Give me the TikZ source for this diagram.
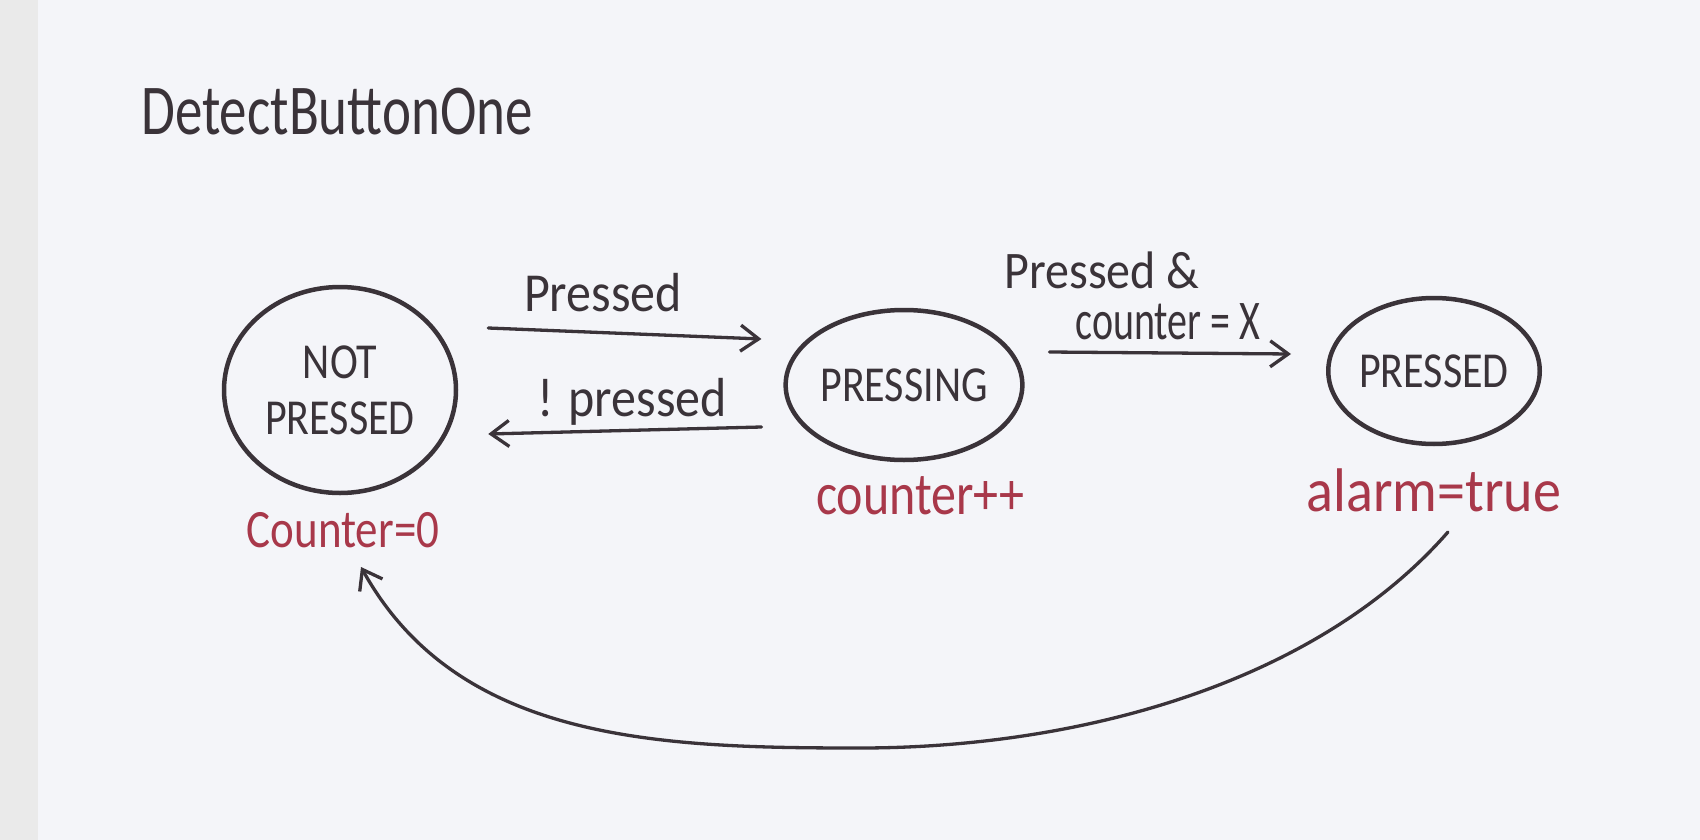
\documentclass[tikz,border=0pt]{standalone}
\usepackage{fontspec}
\setmainfont{Carlito}
\usepackage{graphicx}
\usetikzlibrary{shapes.geometric,arrows.meta,calc}
\definecolor{ink}{HTML}{3A3339}
\definecolor{redink}{HTML}{A8384A}
\definecolor{paper}{HTML}{F4F5F9}
\definecolor{strip}{HTML}{EAEAEA}
\newcommand{\tallx}[2][1.2]{\scalebox{1}[#1]{#2}}
\begin{document}
\begin{tikzpicture}[x=1pt,y=-1pt,
  state/.style={ellipse, draw=ink, line width=4.5pt, inner sep=0pt, text=ink, align=center, font=\fontsize{42}{56}\selectfont},
  arr/.style={draw=ink, line width=3.3pt, line cap=round, -{Straight Barb[length=18pt,width=26pt,line width=3.3pt]}},
  lbl/.style={text=ink, inner sep=0pt},
  act/.style={text=redink, inner sep=0pt}]
\useasboundingbox (0,0) rectangle (1700,840);
\fill[paper] (0,0) rectangle (1700,840);
\fill[strip] (0,0) rectangle (38,840);

\node[lbl, font=\fontsize{55}{60}\selectfont] (title) at (337,112) {\tallx[1.3]{DetectButtonOne}};

\node[state, minimum width=232pt, minimum height=206pt] (np) at (340,390) {\tallx{NOT}\\\tallx{PRESSED}};
\node[state, minimum width=224pt, minimum height=150pt] (pg) at (904,385) {\tallx{PRESSING}};
\node[state, minimum width=200pt, minimum height=146pt] (pd) at (1434,371) {\tallx{PRESSED}};

\node[act, font=\fontsize{45}{50}\selectfont] (c0) at (343,530) {\tallx{Counter=0}};
\node[act, font=\fontsize{50}{55}\selectfont] (cpp) at (920,496) {\tallx{counter++}};
\node[act, font=\fontsize{56}{60}\selectfont] (alarm) at (1434,490) {\tallx[1.1]{alarm=true}};

\draw[arr] ($(np.east)+(30,-62)$) -- ($(pg.west)+(-22,-46)$);
\node[lbl, font=\fontsize{50}{55}\selectfont] (l1) at (603,293) {\tallx[1.1]{Pressed}};

\draw[arr] ($(pg.west)+(-22,42)$) -- ($(np.east)+(30,44)$);
\node[lbl, font=\fontsize{50}{55}\selectfont] (l2) at (632,402) {\tallx[1.1]{! pressed}};

\draw[arr] ($(pg.east)+(25,-33)$) -- ($(pd.west)+(-35,-17)$);
\node[lbl, font=\fontsize{48}{52}\selectfont] (l3a) at (1102,270) {\tallx[1.1]{Pressed \&}};
\node[lbl, font=\fontsize{40}{45}\selectfont] (l3b) at (1168,322) {\tallx[1.4]{counter = X}};

\coordinate (ls) at (1448,532);
\coordinate (le) at (361,567);
\draw[arr] (ls) .. controls (1316,683) and (1080,748) .. (860,748)
  .. controls (660,748) and (458,742) .. (le);
\end{tikzpicture}
\end{document}
